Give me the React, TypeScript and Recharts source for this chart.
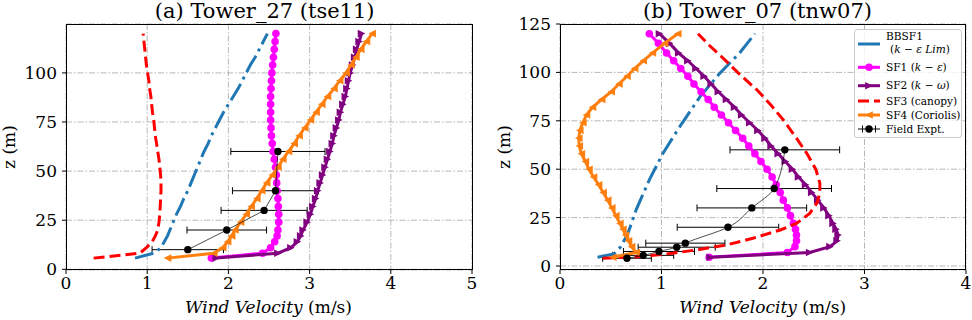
import React from "react";
import { ScatterChart, Scatter, XAxis, YAxis, CartesianGrid, ErrorBar } from "recharts";

// (a) Tower_27 — model levels (m) and profiles (m/s)
const zA = [5.7, 8.2, 11, 14, 17, 20, 24, 28, 32, 36, 40, 44, 48, 52, 56, 60, 64, 68, 72, 76, 80, 84, 88, 92, 96, 100, 104, 108, 112, 116, 120];
const bbsf1A = [0.85, 1.08, 1.17, 1.21, 1.25, 1.28, 1.32, 1.36, 1.41, 1.45, 1.5, 1.54, 1.58, 1.62, 1.66, 1.7, 1.75, 1.79, 1.84, 1.89, 1.94, 2.0, 2.06, 2.12, 2.17, 2.22, 2.27, 2.33, 2.38, 2.43, 2.48];
const sf1A = [1.79, 2.42, 2.52, 2.57, 2.6, 2.61, 2.62, 2.62, 2.615, 2.61, 2.6, 2.595, 2.59, 2.58, 2.565, 2.55, 2.54, 2.53, 2.525, 2.52, 2.52, 2.52, 2.52, 2.525, 2.53, 2.535, 2.545, 2.555, 2.565, 2.575, 2.585];
const sf2A = [1.85, 2.61, 2.77, 2.85, 2.89, 2.92, 2.97, 3.01, 3.04, 3.075, 3.1, 3.13, 3.16, 3.19, 3.22, 3.25, 3.28, 3.3, 3.33, 3.36, 3.38, 3.41, 3.44, 3.46, 3.48, 3.5, 3.53, 3.555, 3.58, 3.61, 3.64];
const sf3A = [0.34, 0.91, 0.99, 1.06, 1.1, 1.13, 1.145, 1.155, 1.16, 1.165, 1.17, 1.17, 1.165, 1.155, 1.145, 1.13, 1.115, 1.1, 1.09, 1.08, 1.065, 1.055, 1.045, 1.03, 1.02, 1.005, 0.99, 0.98, 0.97, 0.96, 0.95];
const sf4A = [1.25, 1.82, 1.93, 1.99, 2.04, 2.08, 2.15, 2.22, 2.28, 2.35, 2.41, 2.47, 2.54, 2.61, 2.67, 2.74, 2.81, 2.87, 2.94, 3.01, 3.08, 3.15, 3.22, 3.3, 3.37, 3.45, 3.51, 3.57, 3.63, 3.7, 3.77];
const fieldZA = [10, 20, 30, 40, 60];
const fieldA = [1.5, 1.98, 2.44, 2.58, 2.61];
const fieldErrA = [0.44, 0.49, 0.53, 0.53, 0.58];

// (b) Tower_07
const zB = [4.5, 7, 10, 13, 16, 19, 22, 26, 30, 34, 38, 42, 46, 50, 54, 58, 62, 66, 70, 74, 78, 82, 86, 90, 94, 98, 102, 106, 110, 115, 120];
const sf1B = [1.47, 2.24, 2.315, 2.33, 2.33, 2.32, 2.3, 2.27, 2.24, 2.2, 2.17, 2.13, 2.09, 2.04, 1.98, 1.92, 1.86, 1.8, 1.73, 1.66, 1.59, 1.52, 1.46, 1.39, 1.32, 1.26, 1.19, 1.12, 1.05, 0.97, 0.88];
const sf2B = [1.48, 2.46, 2.66, 2.73, 2.74, 2.72, 2.69, 2.65, 2.6, 2.54, 2.48, 2.42, 2.35, 2.29, 2.22, 2.15, 2.08, 2.02, 1.95, 1.87, 1.79, 1.72, 1.64, 1.56, 1.49, 1.42, 1.34, 1.26, 1.17, 1.08, 0.98];
const sf4B = [0.52, 0.75, 0.705, 0.675, 0.645, 0.62, 0.59, 0.55, 0.51, 0.47, 0.425, 0.38, 0.33, 0.285, 0.25, 0.21, 0.19, 0.185, 0.195, 0.225, 0.26, 0.32, 0.41, 0.505, 0.58, 0.66, 0.735, 0.82, 0.91, 1.03, 1.16];
const zRedB = [4.0, 4.8, 6.6, 8.3, 10.9, 14.3, 18.6, 22, 27.2, 32.4, 37.6, 42.8, 50, 58.3, 66, 75.5, 83, 91, 100, 108.2, 114, 120];
const sf3B = [0.42, 0.785, 1.11, 1.345, 1.64, 1.9, 2.17, 2.33, 2.46, 2.53, 2.56, 2.56, 2.52, 2.43, 2.33, 2.2, 2.08, 1.94, 1.75, 1.59, 1.47, 1.36];
const zBlueB = [4.5, 6.2, 10, 17, 29, 44.5, 58.3, 72, 87.5, 99.6, 110, 120];
const bbsf1B = [0.37, 0.53, 0.6, 0.67, 0.75, 0.88, 1.015, 1.18, 1.38, 1.575, 1.77, 1.92];
const fieldZB = [4, 5.5, 7.5, 9.7, 11.8, 20, 30, 40, 60];
const fieldB = [0.66, 0.82, 0.975, 1.15, 1.235, 1.655, 1.89, 2.11, 2.215];
const fieldErrB = [0.24, 0.3, 0.35, 0.38, 0.39, 0.5, 0.54, 0.565, 0.54];

const xTicksA = [0, 1, 2, 3, 4, 5];
const xTicksB = [0, 1, 2, 3, 4];
const yTicksA = [0, 25, 50, 75, 100];
const yTicksB = [0, 25, 50, 75, 100, 125];

const BLUE = "#1f77b4";
const MAGENTA = "#ff00ff";
const PURPLE = "#800080";
const RED = "#ff0000";
const ORANGE = "#ff7f0e";
const FONT = "DejaVu Serif";

const pts = (xs: number[], zs: number[]) => xs.map((v, i) => ({ v, z: zs[i] }));
const errPts = (xs: number[], zs: number[], es: number[]) => xs.map((v, i) => ({ v, z: zs[i], err: es[i] }));

const noShape = () => <g />;
const dot = (color: string, r: number) => (p: any) => <circle cx={p.cx} cy={p.cy} r={r} fill={color} />;
const triRight = (color: string) => (p: any) => (
  <polygon points={`${p.cx + 3.8},${p.cy} ${p.cx - 3.8},${p.cy - 3.8} ${p.cx - 3.8},${p.cy + 3.8}`} fill={color} />
);
const triLeft = (color: string) => (p: any) => (
  <polygon points={`${p.cx - 3.8},${p.cy} ${p.cx + 3.8},${p.cy - 3.8} ${p.cx + 3.8},${p.cy + 3.8}`} fill={color} />
);

interface PanelProps {
  width: number;
  margin: { top: number; right: number; bottom: number; left: number };
  xMax: number;
  xTicks: number[];
  yDomain: [number, number];
  yTicks: number[];
  bbsf1: { v: number; z: number }[];
  sf1: { v: number; z: number }[];
  sf2: { v: number; z: number }[];
  sf3: { v: number; z: number }[];
  sf4: { v: number; z: number }[];
  field: { v: number; z: number; err: number }[];
  fieldCurve: "linear" | "monotoneY";
}

function Panel(p: PanelProps) {
  const tick = { fill: "#000", fontSize: 17, fontFamily: FONT };
  return (
    <ScatterChart width={p.width} height={320} margin={p.margin}>
      <CartesianGrid stroke="#b0b0b0" strokeWidth={0.9} strokeDasharray="6 2 1.5 2" />
      <XAxis
        type="number"
        dataKey="v"
        domain={[0, p.xMax]}
        ticks={p.xTicks}
        interval={0}
        allowDataOverflow
        axisLine={false}
        tickLine={{ stroke: "#000" }}
        tickSize={4}
        tickMargin={3}
        height={30}
        tick={tick}
      />
      <YAxis
        type="number"
        dataKey="z"
        domain={p.yDomain}
        ticks={p.yTicks}
        interval={0}
        allowDataOverflow
        axisLine={false}
        tickLine={{ stroke: "#000" }}
        tickSize={4}
        tickMargin={5}
        width={50}
        tick={tick}
      />
      <Scatter data={p.bbsf1} fill={BLUE} line={{ stroke: BLUE, strokeWidth: 3, strokeDasharray: "19 5 3 5" }} shape={noShape} isAnimationActive={false} />
      <Scatter data={p.sf1} fill={MAGENTA} line={{ stroke: MAGENTA, strokeWidth: 3 }} shape={dot(MAGENTA, 3.8)} isAnimationActive={false} />
      <Scatter data={p.sf2} fill={PURPLE} line={{ stroke: PURPLE, strokeWidth: 3 }} shape={triRight(PURPLE)} isAnimationActive={false} />
      <Scatter data={p.sf3} fill={RED} line={{ stroke: RED, strokeWidth: 3, strokeDasharray: "11 5" }} shape={noShape} isAnimationActive={false} />
      <Scatter data={p.sf4} fill={ORANGE} line={{ stroke: ORANGE, strokeWidth: 3 }} shape={triLeft(ORANGE)} isAnimationActive={false} />
      <Scatter
        data={p.field}
        fill="#000"
        line={{ stroke: "#000", strokeWidth: 0.7 }}
        lineJointType={p.fieldCurve}
        shape={dot("#000", 3.7)}
        isAnimationActive={false}
      >
        <ErrorBar dataKey="err" direction="x" width={3.5} stroke="#000" strokeWidth={1} />
      </Scatter>
    </ScatterChart>
  );
}

function Overlay() {
  const it = { fontStyle: "italic" as const };
  const lx1 = 858;
  const lx2 = 880;
  const mid = (lx1 + lx2) / 2;
  const fs = 10.6;
  return (
    <svg width={972} height={320} style={{ position: "absolute", left: 0, top: 0, pointerEvents: "none" }} fontFamily={FONT}>
      <rect x={66.5} y={24.5} width={406} height={245} fill="none" stroke="#000" strokeWidth={1} />
      <rect x={560.5} y={24.5} width={405} height={245} fill="none" stroke="#000" strokeWidth={1} />

      <text x={264.7} y={18} textAnchor="middle" fontSize={21} fill="#000">(a) Tower_27 (tse11)</text>
      <text x={757.5} y={18} textAnchor="middle" fontSize={21} fill="#000">(b) Tower_07 (tnw07)</text>

      <text x={268.5} y={313} textAnchor="middle" fontSize={17} fill="#000">
        <tspan style={it}>Wind Velocity</tspan> (m/s)
      </text>
      <text x={762.7} y={313} textAnchor="middle" fontSize={17} fill="#000">
        <tspan style={it}>Wind Velocity</tspan> (m/s)
      </text>
      <text transform="translate(15,147) rotate(-90)" textAnchor="middle" fontSize={17} fill="#000">z (m)</text>
      <text transform="translate(509.5,147) rotate(-90)" textAnchor="middle" fontSize={17} fill="#000">z (m)</text>

      <g>
        <rect x={854.5} y={29.5} width={107} height={108} rx={2.5} fill="#fff" fillOpacity={0.8} stroke="#cccccc" />
        <line x1={lx1} x2={lx2} y1={44} y2={44} stroke={BLUE} strokeWidth={3} />
        <text x={886} y={40.3} fontSize={fs} fill="#000">BBSF1</text>
        <text x={890} y={52.5} fontSize={fs} fill="#000">
          (<tspan style={it}>k</tspan> − <tspan style={it}>ε Lim</tspan>)
        </text>

        <line x1={lx1} x2={lx2} y1={67.3} y2={67.3} stroke={MAGENTA} strokeWidth={3} />
        <circle cx={mid} cy={67.3} r={3.8} fill={MAGENTA} />
        <text x={886} y={71} fontSize={fs} fill="#000">
          SF1 (<tspan style={it}>k</tspan> − <tspan style={it}>ε</tspan>)
        </text>

        <line x1={lx1} x2={lx2} y1={85.7} y2={85.7} stroke={PURPLE} strokeWidth={3} />
        <polygon points={`${mid + 3.8},85.7 ${mid - 3.8},81.9 ${mid - 3.8},89.5`} fill={PURPLE} />
        <text x={886} y={89.4} fontSize={fs} fill="#000">
          SF2 (<tspan style={it}>k</tspan> − <tspan style={it}>ω</tspan>)
        </text>

        <line x1={lx1} x2={lx2} y1={101} y2={101} stroke={RED} strokeWidth={3} strokeDasharray="11 5" />
        <text x={886} y={104.6} fontSize={fs} fill="#000">SF3 (canopy)</text>

        <line x1={lx1} x2={lx2} y1={115} y2={115} stroke={ORANGE} strokeWidth={3} />
        <polygon points={`${mid - 3.8},115 ${mid + 3.8},111.2 ${mid + 3.8},118.8`} fill={ORANGE} />
        <text x={886} y={118.6} fontSize={fs} fill="#000">SF4 (Coriolis)</text>

        <line x1={lx1} x2={lx2} y1={129} y2={129} stroke="#000" strokeWidth={1} />
        <line x1={862.5} x2={862.5} y1={125.5} y2={132.5} stroke="#000" strokeWidth={1} />
        <line x1={875.5} x2={875.5} y1={125.5} y2={132.5} stroke="#000" strokeWidth={1} />
        <circle cx={mid} cy={129} r={3.7} fill="#000" />
        <text x={886} y={132.6} fontSize={fs} fill="#000">Field Expt.</text>
      </g>
    </svg>
  );
}

export default function App() {
  return (
    <div style={{ position: "absolute", left: 0, top: 0, width: 972, height: 320, background: "#fff", fontFamily: FONT }}>
      <div style={{ position: "absolute", left: 0, top: 0 }}>
        <Panel
          width={490}
          margin={{ top: 24, right: 18, bottom: 20, left: 16 }}
          xMax={5}
          xTicks={xTicksA}
          yDomain={[-0.35, 124.9]}
          yTicks={yTicksA}
          bbsf1={pts(bbsf1A, zA)}
          sf1={pts(sf1A, zA)}
          sf2={pts(sf2A, zA)}
          sf3={pts(sf3A, zA)}
          sf4={pts(sf4A, zA)}
          field={errPts(fieldA, fieldZA, fieldErrA)}
          fieldCurve="linear"
        />
      </div>
      <div style={{ position: "absolute", left: 490, top: 0 }}>
        <Panel
          width={482}
          margin={{ top: 24, right: 6, bottom: 20, left: 20 }}
          xMax={4}
          xTicks={xTicksB}
          yDomain={[-2.07, 125]}
          yTicks={yTicksB}
          bbsf1={pts(bbsf1B, zBlueB)}
          sf1={pts(sf1B, zB)}
          sf2={pts(sf2B, zB)}
          sf3={pts(sf3B, zRedB)}
          sf4={pts(sf4B, zB)}
          field={errPts(fieldB, fieldZB, fieldErrB)}
          fieldCurve="monotoneY"
        />
      </div>
      <Overlay />
    </div>
  );
}
